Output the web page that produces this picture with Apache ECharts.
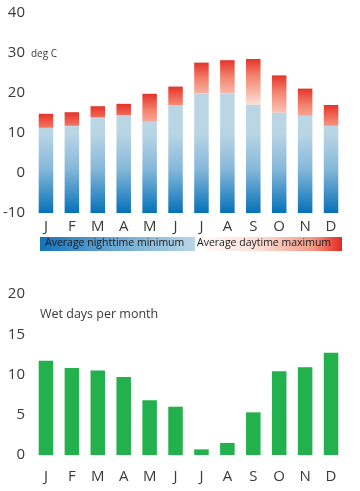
<!DOCTYPE html>
<html><head><meta charset="utf-8">
<script src="https://cdn.jsdelivr.net/npm/echarts@6/dist/echarts.min.js"></script>
<style>html,body{margin:0;padding:0;background:#fff}#c{width:360px;height:491px}</style>
</head><body><div id="c"></div>
<script>
var months = ['J','F','M','A','M','J','J','A','S','O','N','D'];
var nightMin = [11.3, 11.8, 13.9, 14.5, 12.8, 17.0, 19.9, 19.9, 17.1, 15.1, 14.3, 11.8];
var dayMax = [14.8, 15.2, 16.7, 17.3, 19.8, 21.6, 27.6, 28.2, 28.5, 24.4, 21.1, 17.0];
var wetDays = [11.7, 10.8, 10.5, 9.7, 6.8, 6.0, 0.7, 1.5, 5.3, 10.4, 10.9, 12.7];
var tempAxis = {min: -10, max: 40, interval: 10};
var wetAxis = {min: 0, max: 20, interval: 5};
var tempUnit = 'deg C';
var wetTitle = 'Wet days per month';
var legendNames = ['Average nighttime minimum', 'Average daytime maximum'];

var FONT = '"Open Sans", sans-serif';
var LABEL = '#3a3a3a';
var chart = echarts.init(document.getElementById('c'), null, {renderer: 'canvas'});

function renderTemp(params, api) {
  var i = api.value(0), lo = api.value(1), hi = api.value(2);
  var pBase = api.coord([i, tempAxis.min]);
  var pLo = api.coord([i, lo]);
  var pHi = api.coord([i, hi]);
  var w = api.size([1, 0])[0] * 0.56;
  var x = pBase[0] - w / 2;
  var gTop = api.coord([i, 10])[1];
  var blue = new echarts.graphic.LinearGradient(0, gTop, 0, pBase[1], [
    {offset: 0, color: '#bad6e5'},
    {offset: 0.45, color: '#86b8da'},
    {offset: 1, color: '#0571b8'}
  ], true);
  var red = new echarts.graphic.LinearGradient(0, pHi[1], 0, pHi[1] + 48, [
    {offset: 0, color: '#e6332a'},
    {offset: 0.35, color: '#f3846e'},
    {offset: 1, color: '#fde6df'}
  ], true);
  return {
    type: 'group',
    children: [
      {type: 'rect', shape: {x: x, y: pLo[1], width: w, height: pBase[1] - pLo[1]}, style: {fill: blue}},
      {type: 'rect', shape: {x: x, y: pHi[1], width: w, height: pLo[1] - pHi[1]}, style: {fill: red}}
    ]
  };
}

var axisLabelY = {color: LABEL, fontFamily: FONT, fontSize: 15, margin: 8};
var option = {
  animation: false,
  grid: [
    {left: 33, right: 16, top: 13, height: 200},
    {left: 33, right: 16, top: 294, height: 161}
  ],
  xAxis: [
    {gridIndex: 0, type: 'category', data: months, axisLine: {show: false}, axisTick: {show: false},
     axisLabel: {color: LABEL, fontFamily: FONT, fontSize: 15, margin: 6.5}},
    {gridIndex: 1, type: 'category', data: months, axisLine: {show: false}, axisTick: {show: false},
     axisLabel: {color: LABEL, fontFamily: FONT, fontSize: 15, margin: 14.5}}
  ],
  yAxis: [
    {gridIndex: 0, type: 'value', min: tempAxis.min, max: tempAxis.max, interval: tempAxis.interval,
     splitLine: {show: false}, axisLine: {show: false}, axisTick: {show: false}, axisLabel: axisLabelY},
    {gridIndex: 1, type: 'value', min: wetAxis.min, max: wetAxis.max, interval: wetAxis.interval,
     splitLine: {show: false}, axisLine: {show: false}, axisTick: {show: false}, axisLabel: axisLabelY}
  ],
  series: [
    {type: 'custom', xAxisIndex: 0, yAxisIndex: 0, renderItem: renderTemp,
     encode: {x: 0, y: [1, 2]},
     data: months.map(function (m, i) { return [i, nightMin[i], dayMax[i]]; })},
    {type: 'bar', xAxisIndex: 1, yAxisIndex: 1, data: wetDays, barWidth: '56%',
     itemStyle: {color: '#22b14c'}}
  ],
  graphic: [
    {type: 'text', left: 31, top: 49, style: {text: tempUnit, fill: LABEL, font: '10px ' + FONT}},
    {type: 'text', left: 40, top: 308, style: {text: wetTitle, fill: LABEL, font: '12.5px ' + FONT}},
    {type: 'rect', shape: {x: 40, y: 237, width: 155, height: 14},
     style: {fill: new echarts.graphic.LinearGradient(0, 0, 1, 0, [
       {offset: 0, color: '#1474bb'}, {offset: 0.5, color: '#6fa9d3'}, {offset: 1, color: '#bad6e6'}])}},
    {type: 'rect', shape: {x: 195, y: 237, width: 147, height: 14},
     style: {fill: new echarts.graphic.LinearGradient(0, 0, 1, 0, [
       {offset: 0, color: '#ffffff'}, {offset: 0.45, color: '#fcdcd3'}, {offset: 0.8, color: '#f39a85'}, {offset: 1, color: '#e4271f'}])}},
    {type: 'text', left: 45, top: 237.5, style: {text: legendNames[0], fill: '#1a1a1a', font: '10.5px ' + FONT}},
    {type: 'text', left: 197, top: 237.5, style: {text: legendNames[1], fill: '#1a1a1a', font: '10.5px ' + FONT}}
  ]
};
chart.setOption(option);
</script></body></html>
